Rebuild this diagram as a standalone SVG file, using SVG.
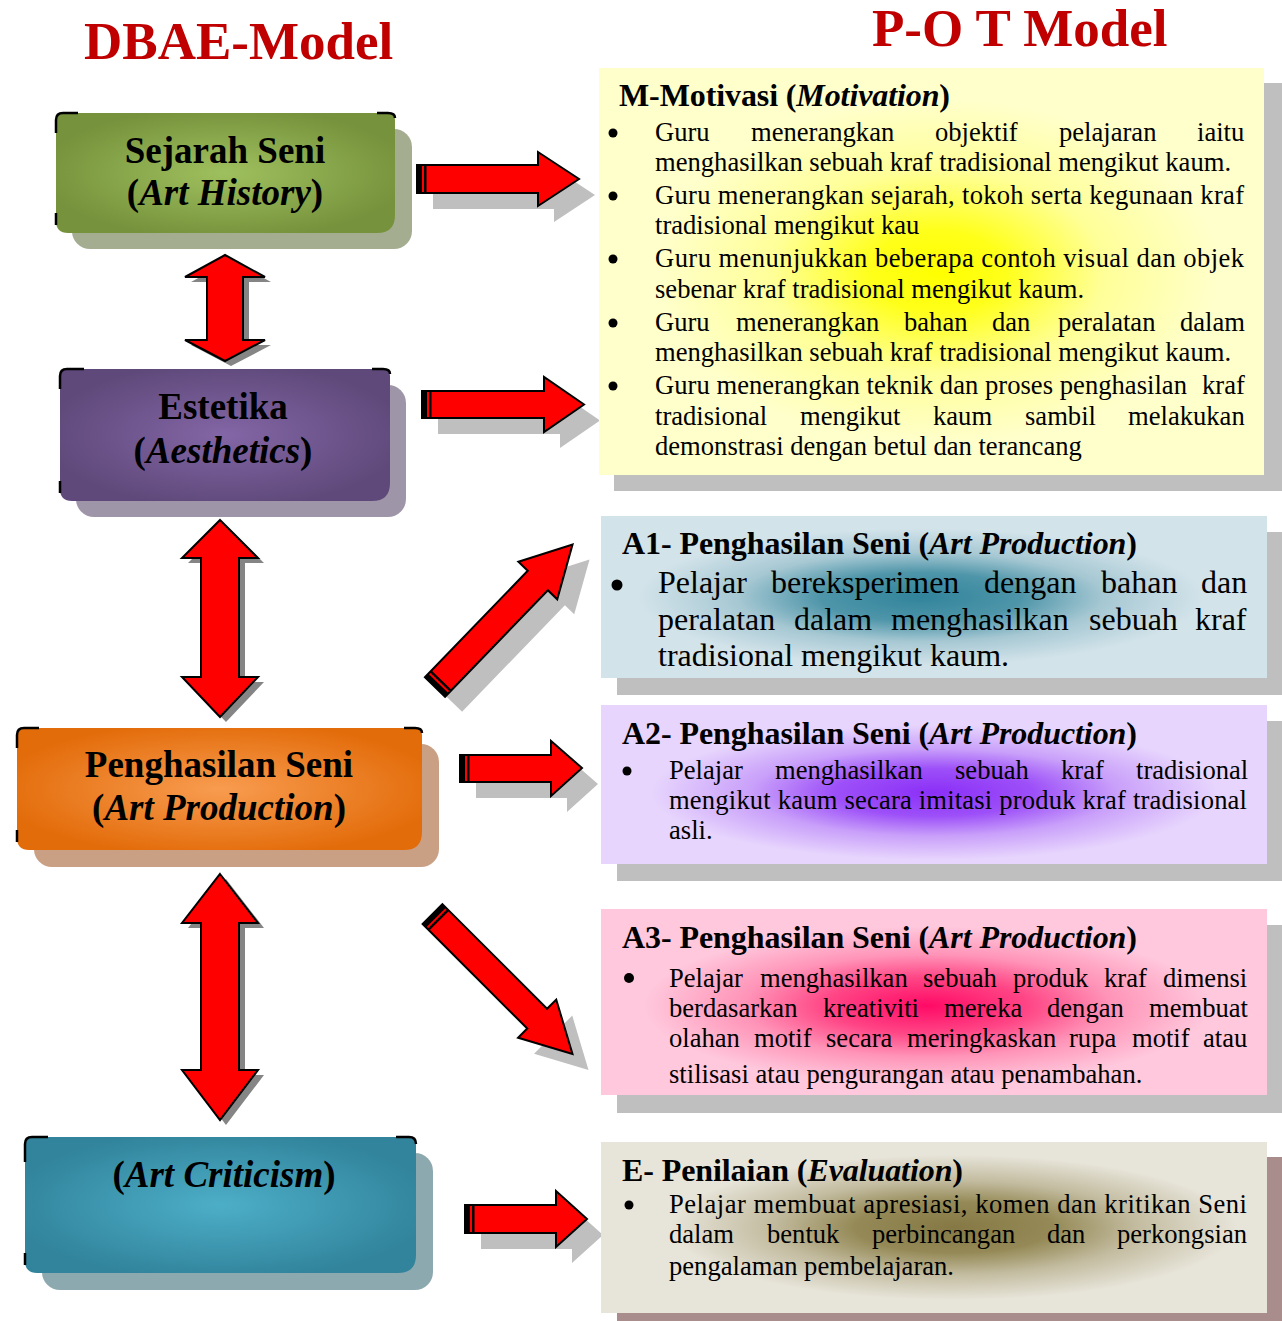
<svg xmlns="http://www.w3.org/2000/svg" width="1282" height="1321" viewBox="0 0 1282 1321">
<style>
.t{font-family:"Liberation Serif","Times New Roman",serif;fill:#000}
.ttl{font-size:53px;font-weight:bold;fill:#c00000}
.lb{font-size:37px;font-weight:bold;text-anchor:middle}
.hd{font-size:32px;font-weight:bold}
.bd{font-size:26.6px}
.bd2{font-size:32px}
.it{font-style:italic}
.arr{fill:#ff0000;stroke:#000;stroke-width:2;stroke-linejoin:miter}
.ash{fill:#bfbfbf}
.vsh{fill:#858585}
.blk{fill:#000}
.mk{fill:none;stroke:#000;stroke-width:2.5}
.bsh{fill:#bfbfbf}
</style>
<defs>
<radialGradient id="gGreen" cx="0.5" cy="0.5" r="0.55"><stop offset="0" stop-color="#9fc05e"/><stop offset="1" stop-color="#76923c"/></radialGradient>
<radialGradient id="gPurple" cx="0.5" cy="0.5" r="0.55"><stop offset="0" stop-color="#8366a6"/><stop offset="1" stop-color="#5f497a"/></radialGradient>
<radialGradient id="gOrange" cx="0.5" cy="0.5" r="0.55"><stop offset="0" stop-color="#f89c50"/><stop offset="1" stop-color="#e36c0a"/></radialGradient>
<radialGradient id="gTeal" cx="0.5" cy="0.5" r="0.55"><stop offset="0" stop-color="#4daec8"/><stop offset="1" stop-color="#31849b"/></radialGradient>
<radialGradient id="gM" cx="0.51" cy="0.5" r="0.5"><stop offset="0" stop-color="#ffff00"/><stop offset="0.2" stop-color="#ffff1a"/><stop offset="0.5" stop-color="#ffff99"/><stop offset="0.85" stop-color="#ffffcc"/><stop offset="1" stop-color="#ffffcc"/></radialGradient>
<radialGradient id="gA1" cx="0.48" cy="0.5" r="0.5"><stop offset="0" stop-color="#31849b"/><stop offset="0.3" stop-color="#4e95a9"/><stop offset="0.55" stop-color="#a6c8d3"/><stop offset="0.85" stop-color="#d3e3ea"/><stop offset="1" stop-color="#d3e3ea"/></radialGradient>
<radialGradient id="gA2" cx="0.5" cy="0.55" r="0.5"><stop offset="0" stop-color="#8b2ff7"/><stop offset="0.3" stop-color="#9d50f8"/><stop offset="0.55" stop-color="#c9a0fa"/><stop offset="0.85" stop-color="#e7d5fd"/><stop offset="1" stop-color="#e7d5fd"/></radialGradient>
<radialGradient id="gA3" cx="0.49" cy="0.52" r="0.5"><stop offset="0" stop-color="#ff0a66"/><stop offset="0.3" stop-color="#ff4585"/><stop offset="0.55" stop-color="#ff94b8"/><stop offset="0.85" stop-color="#ffc8dc"/><stop offset="1" stop-color="#ffc8dc"/></radialGradient>
<radialGradient id="gE" cx="0.53" cy="0.5" r="0.5"><stop offset="0" stop-color="#857845"/><stop offset="0.3" stop-color="#958a57"/><stop offset="0.55" stop-color="#c3bca0"/><stop offset="0.85" stop-color="#e7e4d9"/><stop offset="1" stop-color="#e7e4d9"/></radialGradient>
</defs>
<rect width="1282" height="1321" fill="#ffffff"/>

<g id="titles" class="t">
<text class="t ttl" x="84" y="59">DBAE-Model</text>
<text class="t ttl" x="872" y="46">P-O T Model</text>
</g>

<g id="connectors">
<g id="v1">
<polygon class="vsh" transform="translate(6,5)" points="225,255 265,277 243,277 243,340 265,340 225,361 185,340 207,340 207,277 185,277"/>
<polygon class="arr" points="225,255 265,277 243,277 243,340 265,340 225,361 185,340 207,340 207,277 185,277"/>
</g>
<g id="v2">
<polygon class="vsh" transform="translate(6,5)" points="220,520 258,558 239,558 239,677 258,677 220,717 182,677 201,677 201,558 182,558"/>
<polygon class="arr" points="220,520 258,558 239,558 239,677 258,677 220,717 182,677 201,677 201,558 182,558"/>
</g>
<g id="v3">
<polygon class="vsh" transform="translate(6,5)" points="220,874 258,923 239,923 239,1070 258,1070 220,1120 182,1070 201,1070 201,923 182,923"/>
<polygon class="arr" points="220,874 258,923 239,923 239,1070 258,1070 220,1120 182,1070 201,1070 201,923 182,923"/>
</g>
<g id="h1">
<polygon class="ash" transform="translate(16,16)" points="417,165 538,165 538,152 579,179 538,206 538,193 417,193"/>
<polygon class="arr" points="417,165 538,165 538,152 579,179 538,206 538,193 417,193"/>
<rect class="blk" x="417" y="165" width="5" height="28"/><rect class="blk" x="424" y="165" width="2.5" height="28"/>
</g>
<g id="h2">
<polygon class="ash" transform="translate(16,16)" points="422,391 544,391 544,377 584,404.5 544,432 544,418 422,418"/>
<polygon class="arr" points="422,391 544,391 544,377 584,404.5 544,432 544,418 422,418"/>
<rect class="blk" x="422" y="391" width="5" height="27"/><rect class="blk" x="429" y="391" width="2.5" height="27"/>
</g>
<g id="h3">
<polygon class="ash" transform="translate(16,16)" points="460,755 551,755 551,741 582,768 551,796 551,782 460,782"/>
<polygon class="arr" points="460,755 551,755 551,741 582,768 551,796 551,782 460,782"/>
<rect class="blk" x="460" y="755" width="5" height="27"/><rect class="blk" x="467" y="755" width="2.5" height="27"/>
</g>
<g id="h4">
<polygon class="ash" transform="translate(16,16)" points="465,1205 556,1205 556,1191 587,1219 556,1247 556,1233 465,1233"/>
<polygon class="arr" points="465,1205 556,1205 556,1191 587,1219 556,1247 556,1233 465,1233"/>
<rect class="blk" x="465" y="1205" width="5" height="28"/><rect class="blk" x="472" y="1205" width="2.5" height="28"/>
</g>
<g id="d1">
<g transform="translate(452,702) rotate(-46)"><polygon class="ash" points="0,-14 148,-14 148,-27 198,0 148,27 148,14 0,14"/></g>
<g transform="translate(435,687) rotate(-46)">
<polygon class="arr" points="0,-14 148,-14 148,-27 198,0 148,27 148,14 0,14"/>
<rect class="blk" x="0" y="-14" width="5" height="28"/><rect class="blk" x="7" y="-14" width="2.5" height="28"/>
</g>
</g>
<g id="d2">
<g transform="translate(448.5,930) rotate(45)"><polygon class="ash" points="0,-14 148,-14 148,-27 198,0 148,27 148,14 0,14"/></g>
<g transform="translate(432.5,914) rotate(45)">
<polygon class="arr" points="0,-14 148,-14 148,-27 198,0 148,27 148,14 0,14"/>
<rect class="blk" x="0" y="-14" width="5" height="28"/><rect class="blk" x="7" y="-14" width="2.5" height="28"/>
</g>
</g>
</g>

<g id="node-sejarah">
<rect x="72" y="129" width="340" height="120" rx="18" fill="#a5ad91"/>
<path d="M63,113 H388 Q395,113 395,120 V215 Q395,233 377,233 H68 Q56,233 56,221 V120 Q56,113 63,113 Z" fill="url(#gGreen)"/>
<path class="mk" d="M56,133 V120 Q56,113 63,113 H78 M377,113 H388 Q395,113 395,118 M56,213 V225"/>
<text class="t lb" x="225" y="163">Sejarah Seni</text>
<text class="t lb" x="225" y="205">(<tspan class="it">Art History</tspan>)</text>
</g>

<g id="node-estetika">
<rect x="76" y="385" width="330" height="132" rx="18" fill="#9f95a9"/>
<path d="M67,369 H383 Q390,369 390,376 V483 Q390,501 372,501 H72 Q60,501 60,489 V376 Q60,369 67,369 Z" fill="url(#gPurple)"/>
<path class="mk" d="M60,389 V376 Q60,369 67,369 H84 M372,369 H383 Q390,369 390,374 M60,481 V493"/>
<text class="t lb" x="223" y="419">Estetika</text>
<text class="t lb" x="223" y="463">(<tspan class="it">Aesthetics</tspan>)</text>
</g>

<g id="node-penghasilan">
<rect x="34" y="744" width="405" height="123" rx="18" fill="#c9a083"/>
<path d="M24,728 H415 Q422,728 422,735 V832 Q422,850 404,850 H29 Q17,850 17,838 V735 Q17,728 24,728 Z" fill="url(#gOrange)"/>
<path class="mk" d="M17,748 V735 Q17,728 24,728 H39 M404,728 H415 Q422,728 422,733 M17,830 V842"/>
<text class="t lb" x="219" y="777">Penghasilan Seni</text>
<text class="t lb" x="219" y="820">(<tspan class="it">Art Production</tspan>)</text>
</g>

<g id="node-criticism">
<rect x="42" y="1153" width="391" height="137" rx="18" fill="#8da9b0"/>
<path d="M32,1137 H409 Q416,1137 416,1144 V1255 Q416,1273 398,1273 H37 Q25,1273 25,1261 V1144 Q25,1137 32,1137 Z" fill="url(#gTeal)"/>
<path class="mk" d="M25,1162 V1144 Q25,1137 32,1137 H48 M396,1137 H409 Q416,1137 416,1144 M25,1253 V1265"/>
<text class="t lb" x="224" y="1187">(<tspan class="it">Art Criticism</tspan>)</text>
</g>

<g id="node-motivasi">
<rect class="bsh" x="614" y="83" width="680" height="408"/>
<rect x="599" y="68" width="665" height="407" fill="url(#gM)"/>
<text class="t hd" x="619" y="106" textLength="331">M-Motivasi (<tspan class="it">Motivation</tspan>)</text>
<g fill="#000"><circle cx="613" cy="133" r="4.5"/><circle cx="613" cy="196" r="4.5"/><circle cx="613" cy="259" r="4.5"/><circle cx="613" cy="323" r="4.5"/><circle cx="613" cy="386" r="4.5"/></g>
<text class="t bd" y="141"><tspan x="655">Guru</tspan><tspan x="751">menerangkan</tspan><tspan x="935">objektif</tspan><tspan x="1059">pelajaran</tspan><tspan x="1197">iaitu</tspan></text>
<text class="t bd" x="655" y="171">menghasilkan sebuah kraf tradisional mengikut kaum.</text>
<text class="t bd" x="655" y="204" textLength="589" lengthAdjust="spacing">Guru menerangkan sejarah, tokoh serta kegunaan kraf</text>
<text class="t bd" x="655" y="234">tradisional mengikut kau</text>
<text class="t bd" x="655" y="267" textLength="589" lengthAdjust="spacing">Guru menunjukkan beberapa contoh visual dan objek</text>
<text class="t bd" x="655" y="298">sebenar kraf tradisional mengikut kaum.</text>
<text class="t bd" y="331"><tspan x="655">Guru</tspan><tspan x="736">menerangkan</tspan><tspan x="904">bahan</tspan><tspan x="992">dan</tspan><tspan x="1058">peralatan</tspan><tspan x="1180">dalam</tspan></text>
<text class="t bd" x="655" y="361">menghasilkan sebuah kraf tradisional mengikut kaum.</text>
<text class="t bd" y="394"><tspan x="655" textLength="532" lengthAdjust="spacing">Guru menerangkan teknik dan proses penghasilan</tspan><tspan x="1202">kraf</tspan></text>
<text class="t bd" y="425"><tspan x="655">tradisional</tspan><tspan x="800">mengikut</tspan><tspan x="933">kaum</tspan><tspan x="1025">sambil</tspan><tspan x="1128">melakukan</tspan></text>
<text class="t bd" x="655" y="455">demonstrasi dengan betul dan terancang</text>
</g>

<g id="node-a1">
<rect class="bsh" x="617" y="532" width="680" height="163"/>
<rect x="601" y="516" width="666" height="162" fill="url(#gA1)"/>
<text class="t hd" x="622" y="554" textLength="515">A1- Penghasilan Seni (<tspan class="it">Art Production</tspan>)</text>
<circle cx="617" cy="585" r="5.5" fill="#000"/>
<text class="t bd2" y="593"><tspan x="658">Pelajar</tspan><tspan x="771">bereksperimen</tspan><tspan x="984">dengan</tspan><tspan x="1101">bahan</tspan><tspan x="1201">dan</tspan></text>
<text class="t bd2" y="630"><tspan x="658">peralatan</tspan><tspan x="794">dalam</tspan><tspan x="891">menghasilkan</tspan><tspan x="1089">sebuah</tspan><tspan x="1195">kraf</tspan></text>
<text class="t bd2" x="658" y="666">tradisional mengikut kaum.</text>
</g>

<g id="node-a2">
<rect class="bsh" x="617" y="721" width="680" height="160"/>
<rect x="601" y="705" width="666" height="159" fill="url(#gA2)"/>
<text class="t hd" x="622" y="744" textLength="515">A2- Penghasilan Seni (<tspan class="it">Art Production</tspan>)</text>
<circle cx="627" cy="771" r="4.5" fill="#000"/>
<text class="t bd" y="779"><tspan x="669">Pelajar</tspan><tspan x="775">menghasilkan</tspan><tspan x="955">sebuah</tspan><tspan x="1061">kraf</tspan><tspan x="1136">tradisional</tspan></text>
<text class="t bd" x="669" y="809" textLength="578" lengthAdjust="spacing">mengikut kaum secara imitasi produk kraf tradisional</text>
<text class="t bd" x="669" y="839">asli.</text>
</g>

<g id="node-a3">
<rect class="bsh" x="617" y="925" width="680" height="188"/>
<rect x="601" y="909" width="666" height="186" fill="url(#gA3)"/>
<text class="t hd" x="622" y="948" textLength="515">A3- Penghasilan Seni (<tspan class="it">Art Production</tspan>)</text>
<circle cx="629" cy="978" r="5" fill="#000"/>
<text class="t bd" y="987"><tspan x="669">Pelajar</tspan><tspan x="760">menghasilkan</tspan><tspan x="923">sebuah</tspan><tspan x="1013">produk</tspan><tspan x="1104">kraf</tspan><tspan x="1163">dimensi</tspan></text>
<text class="t bd" y="1017"><tspan x="669">berdasarkan</tspan><tspan x="823">kreativiti</tspan><tspan x="944">mereka</tspan><tspan x="1047">dengan</tspan><tspan x="1149">membuat</tspan></text>
<text class="t bd" y="1047"><tspan x="669">olahan</tspan><tspan x="754">motif</tspan><tspan x="826">secara</tspan><tspan x="907">meringkaskan</tspan><tspan x="1069">rupa</tspan><tspan x="1132">motif</tspan><tspan x="1203">atau</tspan></text>
<text class="t bd" x="669" y="1083">stilisasi atau pengurangan atau penambahan.</text>
</g>

<g id="node-e">
<rect x="617" y="1157" width="680" height="175" fill="#a98c8c"/>
<rect x="601" y="1142" width="666" height="171" fill="url(#gE)"/>
<text class="t hd" x="622" y="1181" textLength="341">E- Penilaian (<tspan class="it">Evaluation</tspan>)</text>
<circle cx="629" cy="1205" r="4.5" fill="#000"/>
<text class="t bd" x="669" y="1213" textLength="578" lengthAdjust="spacing">Pelajar membuat apresiasi, komen dan kritikan Seni</text>
<text class="t bd" y="1243"><tspan x="669">dalam</tspan><tspan x="767">bentuk</tspan><tspan x="872">perbincangan</tspan><tspan x="1047">dan</tspan><tspan x="1117">perkongsian</tspan></text>
<text class="t bd" x="669" y="1275">pengalaman pembelajaran.</text>
</g>
</svg>
